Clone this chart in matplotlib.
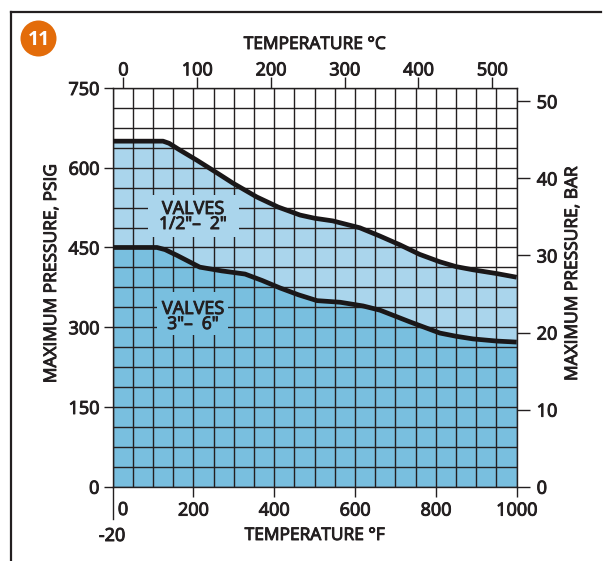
import numpy as np
import matplotlib
matplotlib.use("Agg")
import matplotlib.pyplot as plt
import matplotlib.patheffects as pe
from matplotlib.patches import Circle, Rectangle

plt.rcParams['font.family'] = ['Open Sans', 'DejaVu Sans']

small_temp_f = [0, 125, 140, 165, 209, 255, 298, 357, 410, 464, 500, 545, 612, 660, 711, 760, 810, 850, 892, 950, 1000]
small_psig = [650, 650, 646, 634, 614, 592, 571, 545, 526, 511, 505, 500, 487, 472, 455, 437, 423, 414, 408, 401, 394]
large_temp_f = [0, 110, 130, 160, 216, 270, 328, 370, 414, 460, 506, 563, 620, 662, 736, 810, 850, 892, 950, 1000]
large_psig = [450, 450, 446, 435, 413, 406, 400, 388, 374, 361, 350, 347, 340, 332, 310, 289, 283, 278, 274, 272]
bottom_ticks = [200, 400, 600, 800, 1000]
top_ticks = [0, 100, 200, 300, 400, 500]
left_ticks = [0, 150, 300, 450, 600, 750]
right_ticks = [0, 10, 20, 30, 40, 50]

W, H = 605, 561
L, R, T, B = 112.5, 516.7, 88, 486.7
TEXT = '#231f20'
LIGHT = '#aad5ec'
DARK = '#79bfdf'
GRID = '#231f20'
FS = 13
LW = 1.0
HEAVY = [pe.withStroke(linewidth=0.7, foreground=TEXT)]

fig = plt.figure(figsize=(W / 100, H / 100), dpi=100)
ax = fig.add_axes([L / W, 1 - B / H, (R - L) / W, (B - T) / H])
ax.set_xlim(0, 1000)
ax.set_ylim(0, 750)
ax.xaxis.remove_overlapping_locs = False
ax.yaxis.remove_overlapping_locs = False

ax.fill_between(small_temp_f, small_psig, color=LIGHT, lw=0, zorder=1)
ax.fill_between(large_temp_f, large_psig, color=DARK, lw=0, zorder=1.1)
ax.set_xticks(np.arange(0, 1001, 50), minor=True)
ax.set_yticks(np.arange(0, 751, 37.5), minor=True)
ax.grid(True, which='minor', color=GRID, lw=LW, zorder=2)
ax.set_axisbelow(False)
for s in ax.spines.values():
    s.set_color(GRID)
    s.set_linewidth(LW)
    s.set_zorder(2)

# label masks over the grid
for (x0, x1, y0, y1, c) in [(148, 239, 195, 237, LIGHT), (157, 228, 292, 335, DARK)]:
    ax.add_patch(Rectangle((x0 / W, 1 - y1 / H), (x1 - x0) / W, (y1 - y0) / H,
                           transform=fig.transFigure, fc=c, ec='none', zorder=2.8))

for xs, ys in [(small_temp_f, small_psig), (large_temp_f, large_psig)]:
    ax.plot(xs, ys, color='#1a1718', lw=3.4, solid_joinstyle='round', solid_capstyle='butt', zorder=3)


def ftext(x, y, s, **kw):
    kw.setdefault('fontsize', FS)
    kw.setdefault('color', TEXT)
    kw.setdefault('ha', 'center')
    kw.setdefault('va', 'center')
    t = fig.text(x / W, 1 - y / H, s, **kw)
    if kw['color'] == TEXT:
        t.set_path_effects(HEAVY)
    return t


ftext(193, 209, 'VALVES', fontsize=13)
ftext(193, 225, '1/2"\u2013  2"', fontsize=12.5)
ftext(193, 309, 'VALVES', fontsize=13)
ftext(193, 325, '3"\u2013  6"', fontsize=12.5)

# bottom axis
ax.set_xticks(bottom_ticks, [str(v) for v in bottom_ticks])
ax.tick_params(axis='x', which='major', length=7.2, width=LW, color=GRID, labelsize=FS,
               labelcolor=TEXT, pad=3.5)
ax.tick_params(axis='both', which='minor', length=0)
# left spine extension with its -20 mark
ax.plot([0, 0], [0, -60], color=GRID, lw=LW, clip_on=False, zorder=2)
ftext(123, 510, '0')
ftext(112, 536, '-20')

# left axis
ax.set_yticks(left_ticks, [str(v) for v in left_ticks])
ax.tick_params(axis='y', which='major', length=6.5, width=LW, color=GRID, labelsize=FS,
               labelcolor=TEXT, pad=3)

# top axis, degrees C
top = ax.secondary_xaxis('top', functions=(lambda f: (np.asarray(f) - 27) / 1.825,
                                           lambda c: 27 + 1.825 * np.asarray(c)))
top.set_xticks(top_ticks, [str(v) for v in top_ticks])
top.tick_params(axis='x', length=7.7, width=LW, color=GRID, labelsize=FS, labelcolor=TEXT, pad=-1.5)
top.spines['top'].set_visible(False)

# right axis, bar
right = ax.secondary_yaxis('right', functions=(lambda p: np.asarray(p) / 14.5,
                                               lambda b: np.asarray(b) * 14.5))
right.set_yticks(right_ticks, [str(v) for v in right_ticks])
right.tick_params(axis='y', length=9.4, width=LW, color=GRID, labelsize=FS, labelcolor=TEXT, pad=5)
right.spines['right'].set_visible(False)

for t in (ax.get_xticklabels() + ax.get_yticklabels() + top.get_xticklabels() + right.get_yticklabels()):
    t.set_path_effects(HEAVY)

ftext(315, 45, 'TEMPERATURE \u00b0C', fontsize=12.5)
ftext(315, 536, 'TEMPERATURE \u00b0F', fontsize=12.5)
ftext(52, 273, 'MAXIMUM PRESSURE, PSIG', rotation=90, fontsize=12.5)
ftext(573, 273, 'MAXIMUM PRESSURE, BAR', rotation=90, fontsize=12.5)

# panel frame and badge
fig.add_artist(plt.Line2D([10.5 / W, 10.5 / W], [0, 1 - 12 / H], color=GRID, lw=1.6))
fig.add_artist(plt.Line2D([10.5 / W, 601 / W], [1 - 12 / H, 1 - 12 / H], color=GRID, lw=1.6))
fig.add_artist(Circle((38.5, H - 38.5), 18, transform=None, fc='#e36c0a', ec='none'))
ftext(39, 40, '11', color='white', fontsize=14, fontweight='bold')

fig.savefig('out.png', dpi=100)
